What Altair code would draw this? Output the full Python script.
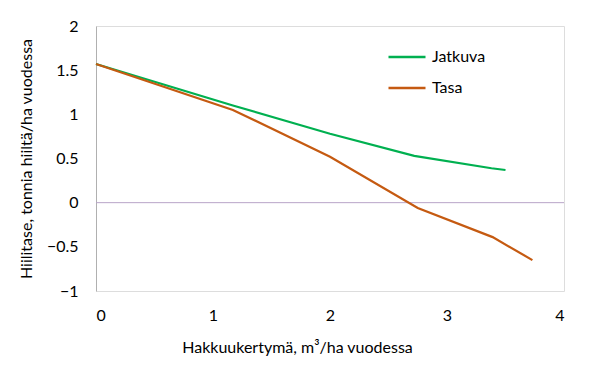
import altair as alt
import pandas as pd

series_names = ["Jatkuva", "Tasa"]
jatkuva_x = [0.0, 1.17, 2.0, 2.72, 3.38, 3.5]
jatkuva_y = [1.57, 1.10, 0.78, 0.53, 0.39, 0.37]
tasa_x = [0.0, 1.17, 2.0, 2.75, 3.39, 3.73]
tasa_y = [1.57, 1.05, 0.52, -0.06, -0.39, -0.65]
colors = ["#00b050", "#c55a11"]
x_ticks = [0, 1, 2, 3, 4]
y_ticks = [-1, -0.5, 0, 0.5, 1, 1.5, 2]

rows = []
for i, (xs, ys) in enumerate([(jatkuva_x, jatkuva_y), (tasa_x, tasa_y)]):
    for j, (a, b) in enumerate(zip(xs, ys)):
        rows.append({"sarja": series_names[i], "x": a, "y": b, "o": j})
df = pd.DataFrame(rows)

FONT = "Lato"
FS = 16

xscale = alt.Scale(domain=[0, 4], nice=False, zero=False)
yscale = alt.Scale(domain=[-1, 2], nice=False, zero=False)

zero = alt.Chart(pd.DataFrame({"y": [0]})).mark_rule(color="#b8a4c8", strokeWidth=1).encode(
    y=alt.Y("y:Q", scale=yscale), x=alt.value(0), x2=alt.value(468)
)

lines = alt.Chart(df).mark_line(strokeWidth=2.2).encode(
    x=alt.X("x:Q", scale=xscale,
            axis=alt.Axis(title="Hakkuukertymä, m³/ha vuodessa", values=x_ticks, grid=False,
                          format="~g", domain=False, ticks=False, labelPadding=16, titlePadding=16,
                          titleX=201, labelFontSize=FS, titleFontSize=FS, labelFont=FONT, titleFont=FONT,
                          titleFontWeight="normal", labelColor="#000", titleColor="#000")),
    y=alt.Y("y:Q", scale=yscale,
            axis=alt.Axis(title="Hiilitase, tonnia hiiltä/ha vuodessa", values=y_ticks, grid=False,
                          format="~g", domain=True, domainColor="#b0b0b0", domainWidth=1, ticks=False,
                          labelPadding=18, titlePadding=12, labelFontSize=FS, titleFontSize=FS,
                          labelFont=FONT, titleFont=FONT, titleFontWeight="normal",
                          labelColor="#000", titleColor="#000")),
    color=alt.Color("sarja:N", scale=alt.Scale(domain=series_names, range=colors),
                    legend=alt.Legend(title=None, orient="none", legendX=291, legendY=11,
                                      symbolType="stroke", symbolSize=1369, symbolStrokeWidth=2.5,
                                      labelFontSize=FS, labelFont=FONT, labelColor="#000",
                                      rowPadding=3, labelOffset=5)),
    order="o:Q",
)

chart = alt.layer(zero, lines).properties(
    width=468, height=265,
    padding={"left": 96, "top": 26, "right": 35, "bottom": 78},
    autosize=alt.AutoSizeParams(type="none"),
).configure_view(stroke=None).configure(background="white")

chart.save("out.html", embed_options={"renderer": "svg", "actions": False})
